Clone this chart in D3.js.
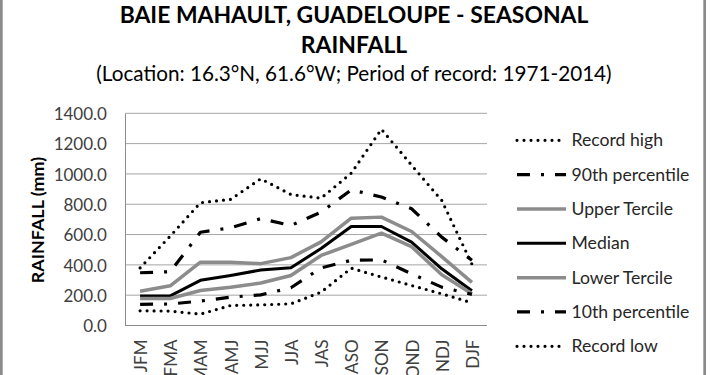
<!DOCTYPE html>
<html>
<head>
<meta charset="utf-8">
<script src="https://cdn.jsdelivr.net/npm/d3@7"></script>
<style>
  html, body { margin: 0; padding: 0; background: #fff; }
  svg { display: block; }
  text { font-family: Lato, "Open Sans", sans-serif; }
</style>
</head>
<body>
<svg id="chart" width="710" height="375"></svg>
<script>
// ---- data ----
const seasons = ["JFM","FMA","MAM","AMJ","MJJ","JJA","JAS","ASO","SON","OND","NDJ","DJF"];
const recordHigh   = [380, 590, 810, 832, 968, 864, 840, 1005, 1295, 1058, 825, 405];
const pct90        = [348, 355, 615, 645, 705, 660, 748, 895, 848, 770, 583, 430];
const upperTercile = [226, 262, 418, 418, 408, 448, 552, 708, 715, 620, 455, 285];
const median       = [195, 196, 298, 330, 366, 381, 508, 653, 653, 550, 374, 229];
const lowerTercile = [178, 178, 231, 253, 280, 330, 462, 535, 609, 520, 335, 210];
const pct10        = [140, 142, 161, 187, 202, 249, 380, 430, 433, 341, 253, 205];
const recordLow    = [97, 95, 75, 132, 136, 143, 220, 378, 320, 264, 209, 150];
const yTicks = [0, 200, 400, 600, 800, 1000, 1200, 1400];
const seriesNames = ["Record high","90th percentile","Upper Tercile","Median","Lower Tercile","10th percentile","Record low"];
const seriesValues = [recordHigh, pct90, upperTercile, median, lowerTercile, pct10, recordLow];

(function () {
// ---- styles ----
const dotted  = {stroke:"#000", width:3.2, dash:"0,7", cap:"round"};
const dashdot = {stroke:"#000", width:3.2, dash:"13,11,3,11", cap:"butt"};
const grayS   = {stroke:"#8c8c8c", width:3.5, dash:null, cap:"butt"};
const blackS  = {stroke:"#000", width:3, dash:null, cap:"butt"};
const styles = [dotted, dashdot, grayS, blackS, grayS, dashdot, dotted];

const svg = d3.select("#chart");
const W = 710, H = 375;
svg.append("rect").attr("width", W).attr("height", H).attr("fill", "#fff");

// frame (left/right edges visible)
svg.append("rect").attr("x", 1.35).attr("y", -10).attr("width", 703.3).attr("height", H + 20)
  .attr("fill", "none").attr("stroke", "#8a8a8a").attr("stroke-width", 2.7);

const pL = 125, pR = 487, pT = 113.3, pB = 325.5;
const x = d3.scalePoint().domain(seasons).range([pL, pR]).padding(0.5);
const y = d3.scaleLinear().domain([0, 1400]).range([pB, pT]);

function fit(sel, target) {
  const w = sel.node().getComputedTextLength();
  const fs = parseFloat(sel.attr("font-size"));
  sel.attr("font-size", fs * target / w);
  return sel;
}

// gridlines
svg.append("g").selectAll("line").data(yTicks.filter(d => d > 0)).join("line")
  .attr("x1", pL).attr("x2", pR)
  .attr("y1", d => y(d)).attr("y2", d => y(d))
  .attr("stroke", "#a6a6a6").attr("stroke-width", 1);

// axes
const yAxis = svg.append("g").attr("transform", `translate(${pL},0)`)
  .call(d3.axisLeft(y).tickValues(yTicks).tickSize(0).tickPadding(18).tickFormat(d3.format(".1f")));
yAxis.select(".domain").attr("stroke", "#8c8c8c").attr("stroke-width", 1);
yAxis.selectAll("text").attr("font-size", 17).attr("fill", "#404040")
  .attr("font-family", "Lato, sans-serif").attr("dy", "0.36em");
let fsTick = 17;
{
  const t = yAxis.selectAll("text").filter(d => d === 1400);
  const w = t.node().getComputedTextLength();
  fsTick = 17 * 53.4 / w;
  yAxis.selectAll("text").attr("font-size", fsTick);
}

const xAxis = svg.append("g").attr("transform", `translate(0,${pB})`)
  .call(d3.axisBottom(x).tickSize(0).tickFormat(d => d));
xAxis.select(".domain").attr("d", `M${pL},0H${pR}`).attr("stroke", "#8c8c8c").attr("stroke-width", 1);
xAxis.selectAll("text")
  .attr("font-size", fsTick).attr("fill", "#404040").attr("font-family", "Lato, sans-serif")
  .attr("text-anchor", "end").attr("dy", null)
  .attr("transform", "translate(0,14) rotate(-90)")
  .attr("x", 0).attr("y", 0).attr("dominant-baseline", "central");

// series
const line = d3.line().x((d, i) => x(seasons[i])).y(d => y(d));
seriesValues.forEach((vals, k) => {
  const s = styles[k];
  svg.append("path").datum(vals).attr("d", line)
    .attr("fill", "none").attr("stroke", s.stroke).attr("stroke-width", s.width)
    .attr("stroke-dasharray", s.dash).attr("stroke-linecap", s.cap).attr("stroke-linejoin", "round");
});

// y title
const yt = svg.append("text").attr("transform", "translate(44,220) rotate(-90)")
  .attr("text-anchor", "middle").attr("font-weight", "bold").attr("font-size", 16)
  .attr("fill", "#000").text("RAINFALL (mm)");
fit(yt, 126.5);

// titles
const t1 = svg.append("text").attr("x", 354).attr("y", 23).attr("text-anchor", "middle")
  .attr("font-weight", "bold").attr("font-size", 22).attr("fill", "#000")
  .text("BAIE MAHAULT, GUADELOUPE - SEASONAL");
fit(t1, 469);
svg.append("text").attr("x", 354).attr("y", 53).attr("text-anchor", "middle")
  .attr("font-weight", "bold").attr("font-size", t1.attr("font-size")).attr("fill", "#000")
  .text("RAINFALL");
const t3 = svg.append("text").attr("x", 354).attr("y", 81).attr("text-anchor", "middle")
  .attr("font-size", 19).attr("fill", "#000")
  .text("(Location: 16.3°N, 61.6°W; Period of record: 1971-2014)");
fit(t3, 515.7);

// legend
const lg = svg.append("g");
const rowY = d3.scaleLinear().domain([0, 6]).range([140.3, 346.3]);
let fsLeg = 17;
seriesNames.forEach((name, k) => {
  const s = styles[k];
  const yy = rowY(k);
  lg.append("line").attr("x1", 517).attr("x2", s === dotted ? 562 : 566)
    .attr("y1", yy).attr("y2", yy)
    .attr("stroke", s.stroke).attr("stroke-width", s.width)
    .attr("stroke-dasharray", s.dash).attr("stroke-linecap", s.cap);
  const t = lg.append("text").attr("x", 571.5).attr("y", yy).attr("dy", "0.35em")
    .attr("font-size", fsLeg).attr("fill", "#262626").text(name);
  if (k === 0) {
    const w = t.node().getComputedTextLength();
    fsLeg = fsLeg * 91.5 / w;
    t.attr("font-size", fsLeg);
  }
});
})();
</script>
</body>
</html>
